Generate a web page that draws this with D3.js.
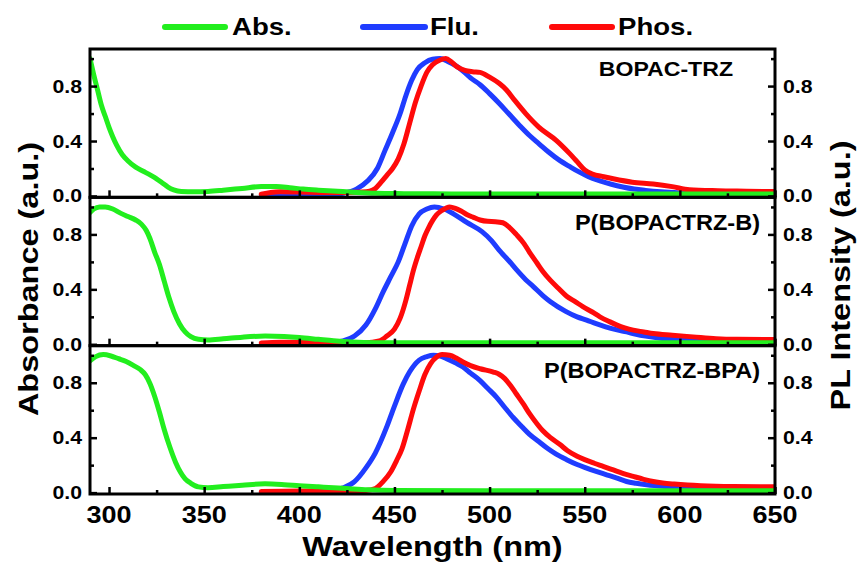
<!DOCTYPE html>
<html>
<head>
<meta charset="utf-8">
<script src="https://cdn.jsdelivr.net/npm/d3@7"></script>
<style>
  body { margin: 0; background: #fff; }
  svg { display: block; }
  text { font-family: "Liberation Sans", Arial, sans-serif; font-weight: bold; fill: #000; }
</style>
</head>
<body>
<svg id="chart" width="862" height="563"></svg>
<script>
// ---- spectra: [wavelength (nm), normalised intensity] ----
const absTRZ = [[290,1.0],[292,0.88],[294,0.77],[296,0.66],[298,0.58],[300,0.50],[302,0.43],[304,0.37],[307,0.30],[310,0.255],[314,0.21],[318,0.18],[322,0.15],[325,0.125],[328,0.095],[331,0.065],[334,0.045],[338,0.033],[345,0.03],[352,0.033],[360,0.042],[370,0.055],[380,0.068],[388,0.068],[395,0.06],[402,0.05],[410,0.042],[420,0.034],[430,0.026],[440,0.02],[455,0.017],[480,0.015],[550,0.014],[650,0.014]];
const fluTRZ = [[380,0.0],[400,0.003],[415,0.008],[423,0.02],[430,0.05],[436,0.11],[441,0.2],[445,0.33],[449,0.46],[453,0.6],[456,0.73],[459,0.84],[462,0.92],[466,0.97],[470,0.995],[474,1.0],[478,0.98],[482,0.95],[486,0.91],[490,0.86],[495,0.81],[500,0.745],[505,0.675],[510,0.6],[516,0.51],[521,0.44],[526,0.38],[531,0.32],[537,0.257],[542,0.215],[547,0.175],[552,0.14],[558,0.11],[564,0.085],[570,0.065],[576,0.05],[582,0.04],[590,0.03],[600,0.022],[620,0.015],[650,0.01]];
const phosTRZ = [[380,0.012],[385,0.025],[390,0.03],[400,0.028],[415,0.025],[425,0.025],[433,0.028],[437,0.035],[440,0.055],[443,0.1],[446,0.15],[449,0.2],[452,0.27],[455,0.38],[458,0.53],[461,0.68],[464,0.8],[467,0.9],[470,0.955],[474,0.99],[477,1.0],[480,0.975],[483,0.94],[487,0.915],[491,0.905],[495,0.9],[500,0.865],[505,0.82],[509,0.77],[513,0.7],[519,0.6],[526,0.5],[535,0.405],[542,0.31],[546,0.25],[550,0.19],[554,0.16],[560,0.14],[565,0.125],[575,0.1],[586,0.087],[596,0.068],[605,0.045],[620,0.038],[635,0.035],[650,0.032]];

const absB = [[290,0.96],[292,0.985],[295,1.0],[298,1.0],[302,0.985],[306,0.955],[310,0.93],[314,0.905],[317,0.875],[319.5,0.83],[321.5,0.77],[324,0.67],[326.5,0.58],[329,0.46],[331.5,0.34],[334,0.24],[337,0.15],[340,0.09],[343,0.055],[347,0.036],[352,0.032],[360,0.04],[370,0.052],[382,0.06],[392,0.057],[400,0.05],[410,0.036],[418,0.025],[428,0.016],[440,0.012],[480,0.011],[650,0.011]];
const fluB = [[380,0.0],[400,0.003],[415,0.008],[423,0.024],[429,0.06],[435,0.14],[440,0.26],[444,0.38],[448,0.49],[452,0.6],[456,0.75],[459,0.86],[463,0.95],[467,0.985],[471,1.0],[476,0.985],[481,0.95],[488,0.887],[496,0.82],[501,0.755],[505,0.685],[510,0.61],[514,0.545],[519,0.47],[523,0.42],[528,0.355],[532,0.31],[540,0.24],[546,0.2],[551,0.176],[556,0.15],[561,0.127],[567,0.105],[572,0.09],[577,0.073],[582,0.06],[588,0.048],[593,0.04],[603,0.033],[620,0.025],[650,0.018]];
const phosB = [[380,0.01],[390,0.015],[400,0.015],[420,0.012],[435,0.012],[442,0.025],[446,0.06],[450,0.11],[453,0.19],[456,0.32],[458,0.43],[460,0.54],[462,0.63],[464,0.71],[466,0.79],[468,0.85],[470,0.9],[472,0.94],[475,0.975],[479,1.0],[482,0.99],[485,0.97],[488,0.945],[491.5,0.924],[495,0.905],[499,0.895],[503,0.893],[507,0.885],[510.5,0.85],[514,0.8],[518,0.735],[521,0.67],[525,0.59],[528,0.53],[532,0.465],[536,0.41],[540.5,0.35],[545,0.31],[549,0.274],[554,0.235],[558,0.2],[563,0.165],[567,0.14],[571,0.12],[575.5,0.103],[581,0.09],[586,0.078],[596,0.066],[607,0.054],[619,0.041],[630,0.036],[650,0.034]];

const absBPA = [[290,0.96],[293,0.99],[297,1.005],[301,0.995],[305,0.975],[309,0.955],[313,0.925],[316.5,0.895],[319,0.86],[321.5,0.795],[324,0.7],[326.5,0.585],[329,0.46],[332,0.33],[335,0.22],[337.5,0.15],[340,0.1],[343,0.068],[347,0.042],[352,0.036],[360,0.044],[370,0.054],[382,0.064],[392,0.058],[400,0.05],[410,0.042],[418,0.036],[428,0.027],[436,0.021],[450,0.016],[500,0.014],[650,0.014]];
const fluBPA = [[380,0.0],[400,0.004],[415,0.012],[423,0.035],[429,0.08],[435,0.18],[440,0.29],[446,0.48],[450,0.63],[454.6,0.79],[458,0.88],[463,0.965],[467,0.99],[470.5,1.0],[474,0.995],[477.4,0.975],[482,0.945],[486,0.915],[490,0.87],[495,0.816],[499,0.76],[503.7,0.694],[508,0.62],[512.4,0.547],[517,0.48],[521,0.424],[526,0.37],[530,0.326],[535,0.28],[540.5,0.24],[546,0.205],[551,0.179],[556,0.155],[561.5,0.13],[567,0.105],[572,0.081],[577,0.068],[582.5,0.057],[593,0.044],[605,0.035],[620,0.026],[650,0.02]];
const phosBPA = [[380,0.008],[400,0.012],[420,0.012],[435,0.015],[440,0.03],[444,0.08],[448,0.15],[451,0.23],[454,0.32],[457,0.46],[460,0.61],[463,0.74],[466,0.86],[469,0.94],[472,0.985],[475,1.005],[479,1.0],[482.5,0.98],[486,0.951],[490,0.925],[495,0.902],[502,0.878],[505,0.862],[508,0.83],[511,0.78],[514,0.72],[518,0.64],[521,0.575],[525,0.5],[528,0.45],[532,0.4],[537,0.35],[541,0.305],[546,0.265],[550,0.24],[555,0.214],[560,0.19],[565,0.165],[570,0.14],[575.5,0.118],[581,0.097],[586,0.081],[591,0.07],[597,0.062],[604,0.055],[611,0.05],[628,0.044],[650,0.042]];

const panelNames = ["BOPAC-TRZ", "P(BOPACTRZ-B)", "P(BOPACTRZ-BPA)"];
const seriesNames = ["Abs.", "Flu.", "Phos."];
const xTickValues = [300, 350, 400, 450, 500, 550, 600, 650];
const xMinorValues = [325, 375, 425, 475, 525, 575, 625];
const yTickValues = [0.0, 0.4, 0.8];
const yMinorValues = [0.2, 0.6, 1.0];
const xTitle = "Wavelength (nm)";
const yLeftTitle = "Absorbance (a.u.)";
const yRightTitle = "PL Intensity (a.u.)";

// each panel: absorption, fluorescence, phosphorescence
const panelSeries = [
  [absTRZ, fluTRZ, phosTRZ],
  [absB, fluB, phosB],
  [absBPA, fluBPA, phosBPA]
];

// ---- layout & style ----
const colors = ["#22ee1e", "#1f3cff", "#ff0a0a"];
const plotLeft = 90, plotRight = 775, plotTop = 49, plotBottom = 494;
const ph = (plotBottom - plotTop) / 3;
const SX = 1.16;   // glyph width factor

const svg = d3.select("#chart");

const x = d3.scaleLinear().domain([290, 650]).range([plotLeft, plotRight]);
const y = d3.scaleLinear().domain([-0.01, 1.07]).range([ph, 0]);

const line = d3.line()
  .x(d => x(d[0]))
  .y(d => y(d[1]))
  .curve(d3.curveMonotoneX);

function stretchedText(parent, px, py, str, size, anchor, rot, sx) {
  return parent.append("text")
    .attr("transform", `translate(${px},${py})` + (rot ? ` rotate(${rot})` : "") + ` scale(${sx || SX},1)`)
    .attr("text-anchor", anchor)
    .style("font-size", size + "px")
    .text(str);
}

svg.append("defs").append("clipPath").attr("id", "plotClip")
  .append("rect").attr("x", plotLeft).attr("y", -2).attr("width", plotRight - plotLeft).attr("height", ph + 2);

// draw order: Flu., Phos., Abs. (absorption on top)
const drawOrder = [1, 2, 0];
const labelOffsets = [[42, 27], [15, 32.5], [15, 32.5]];

panelSeries.forEach((series, i) => {
  const g = svg.append("g").attr("transform", `translate(0,${plotTop + i * ph})`);
  const plot = g.append("g").attr("clip-path", "url(#plotClip)");

  drawOrder.forEach(k => {
    plot.append("path")
      .datum(series[k])
      .attr("d", line)
      .attr("fill", "none")
      .attr("stroke", colors[k])
      .attr("stroke-width", 5)
      .attr("stroke-linejoin", "round")
      .attr("stroke-linecap", "round");
  });

  // panel frame
  g.append("rect")
    .attr("x", plotLeft).attr("y", 0)
    .attr("width", plotRight - plotLeft).attr("height", ph)
    .attr("fill", "none").attr("stroke", "#000").attr("stroke-width", 3);

  // x ticks (inward, on the bottom edge)
  const xAxis = d3.axisBottom(x).tickValues(xTickValues).tickSizeInner(-7).tickSizeOuter(0).tickFormat("");
  const xMinor = d3.axisBottom(x).tickValues(xMinorValues).tickSizeInner(-4).tickSizeOuter(0).tickFormat("");
  [xAxis, xMinor].forEach(ax => {
    const a = g.append("g").attr("transform", `translate(0,${ph})`).call(ax);
    a.select(".domain").remove();
    a.selectAll("line").attr("stroke", "#000").attr("stroke-width", 2.5);
  });

  // y ticks (inward, both sides)
  [[d3.axisLeft, plotLeft], [d3.axisRight, plotRight]].forEach(([fn, px]) => {
    const major = fn(y).tickValues(yTickValues).tickSizeInner(-7).tickSizeOuter(0).tickFormat("");
    const minor = fn(y).tickValues(yMinorValues).tickSizeInner(-4).tickSizeOuter(0).tickFormat("");
    [major, minor].forEach(ax => {
      const a = g.append("g").attr("transform", `translate(${px},0)`).call(ax);
      a.select(".domain").remove();
      a.selectAll("line").attr("stroke", "#000").attr("stroke-width", 2.5);
    });
  });

  // y tick labels
  yTickValues.forEach(v => {
    stretchedText(g, plotLeft - 8, y(v) + 6.5, v.toFixed(1), 18, "end", 0, 1.18);
    stretchedText(g, plotRight + 8, y(v) + 6.5, v.toFixed(1), 18, "start", 0, 1.18);
  });

  // panel name
  const size = i === 0 ? 21 : 22;
  const sx = i === 0 ? 1.1 : 1.07;
  stretchedText(g, plotRight - labelOffsets[i][0], labelOffsets[i][1], panelNames[i], size, "end", 0, sx);
});

// x tick labels
xTickValues.forEach(v => {
  stretchedText(svg, x(v), 522.5, String(v), 23.5, "middle", 0, 1.15);
});

// axis titles
stretchedText(svg, (plotLeft + plotRight) / 2, 556, xTitle, 28, "middle", 0, SX);
stretchedText(svg, 38, 279, yLeftTitle, 28, "middle", -90, SX);
stretchedText(svg, 850, 275.5, yRightTitle, 28, "middle", -90, SX);

// legend
const legendItems = [[165, 225, 232], [363, 425, 430], [552, 612, 618]];
seriesNames.forEach((name, k) => {
  const [x0, x1, tx] = legendItems[k];
  svg.append("line")
    .attr("x1", x0).attr("x2", x1).attr("y1", 27).attr("y2", 27)
    .attr("stroke", colors[k]).attr("stroke-width", 6).attr("stroke-linecap", "round");
  stretchedText(svg, tx, 35, name, 23, "start", 0, 1.2);
});
</script>
</body>
</html>
